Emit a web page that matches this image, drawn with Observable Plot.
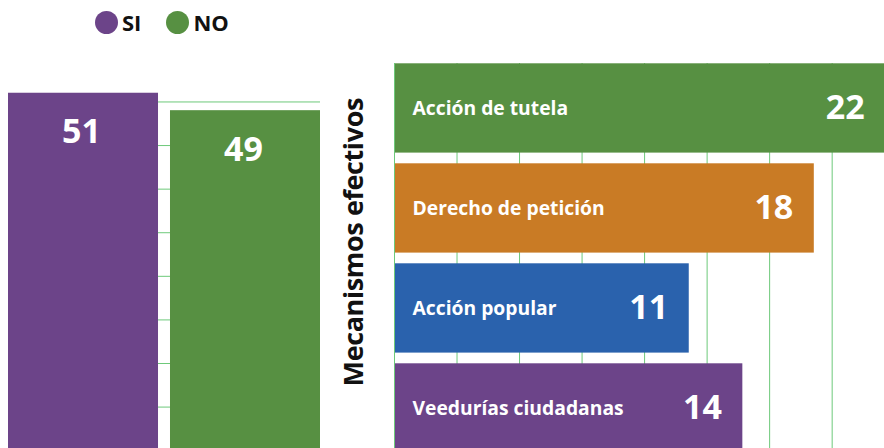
<!DOCTYPE html>
<html><head><meta charset="utf-8">
<script src="https://cdn.jsdelivr.net/npm/d3@7"></script>
<script src="https://cdn.jsdelivr.net/npm/@observablehq/plot@0.6"></script>
<style>
body{margin:0;background:#fff;font-family:"Open Sans",sans-serif;}
#legend{display:flex;align-items:center;height:36px;padding-top:4px;padding-left:95px;width:789px;}
.item{display:flex;align-items:center;margin-right:25px;}
.dot{width:23px;height:23px;border-radius:50%;margin-right:4px;}
.lab{font-size:22px;font-weight:700;color:#111;}
#row{display:flex;width:884px;height:408px;overflow:hidden;}
</style></head><body>
<div id="legend"></div>
<div id="row"><div id="left"></div><div id="right"></div></div>
<script>
// ---- data ----
const answers = ["SI", "NO"];
const answerValues = [51, 49];
const mechanisms = ["Acción de tutela", "Derecho de petición", "Acción popular", "Veedurías ciudadanas"];
const mechanismValues = [22, 18, 11, 14];
const axisTitle = "Mecanismos efectivos";
const leftTicks = [15, 20, 25, 30, 35, 40, 45, 50];

// ---- styles ----
const purple = "#6c4489", green = "#579042", orange = "#c97b25", blue = "#2a62ad", grid = "#6dc97a";
const font = '"Open Sans", sans-serif';

const leftData = answers.map((k, i) => ({k, v: answerValues[i]}));
const rightData = mechanisms.map((k, i) => ({k, v: mechanismValues[i]}));

// legend
const legendColors = [purple, green];
const legend = document.getElementById("legend");
answers.forEach((a, i) => {
  const it = document.createElement("div"); it.className = "item";
  const dot = document.createElement("span"); dot.className = "dot"; dot.style.background = legendColors[i];
  const lab = document.createElement("span"); lab.className = "lab"; lab.textContent = a;
  it.append(dot, lab); legend.append(it);
});

const yMin = 10.25;
const leftPlot = Plot.plot({
  width: 335, height: 408,
  marginLeft: 8, marginRight: 15, marginTop: 0, marginBottom: 0,
  style: {fontFamily: font, background: "transparent"},
  x: {domain: answers, paddingInner: 0.074, paddingOuter: 0, round: false, axis: null},
  y: {domain: [yMin, 57.05], axis: null},
  color: {domain: answers, range: [purple, green]},
  marks: [
    Plot.ruleY(leftTicks, {stroke: grid, strokeWidth: 1}),
    Plot.barY(leftData, {x: "k", y1: yMin, y2: "v", fill: "k"}),
    Plot.text(leftData, {x: "k", y: "v", text: d => String(d.v), fill: "white", fontSize: 34, fontWeight: 700, dy: 39, dx: -2, lineAnchor: "middle"})
  ]
});
document.getElementById("left").append(leftPlot);

const B = -5.5;
const rightPlot = Plot.plot({
  width: 549, height: 408,
  marginLeft: 59, marginRight: 0, marginTop: 23, marginBottom: 0,
  style: {fontFamily: font, background: "transparent"},
  x: {domain: [B, 21.93], axis: null},
  y: {domain: mechanisms, range: [23.3, 412.6], paddingInner: 0.107, paddingOuter: 0, round: false, axis: null},
  color: {domain: mechanisms, range: [green, orange, blue, purple]},
  marks: [
    Plot.ruleX(d3.range(B, 22, 3.5), {stroke: grid, strokeWidth: 1}),
    Plot.barX(rightData, {y: "k", x1: B, x2: "v", fill: "k", insetLeft: 1}),
    Plot.text(rightData, {y: "k", x: B, text: "k", dx: 18, textAnchor: "start", fill: "white", fontSize: 19.3, fontWeight: 700, lineAnchor: "middle"}),
    Plot.text(rightData, {y: "k", x: "v", text: d => String(d.v), dx: -21, textAnchor: "end", fill: "white", fontSize: 34, fontWeight: 700, lineAnchor: "middle"}),
    Plot.text([axisTitle], {frameAnchor: "left", text: d => d, rotate: -90, dx: -40.5, dy: -13.8, fontSize: 27, fontWeight: 700, fill: "#111", lineAnchor: "middle", textAnchor: "middle"})
  ]
});
rightPlot.querySelectorAll("text").forEach(t => { if (t.textContent === axisTitle) t.style.letterSpacing = "-0.4px"; });
document.getElementById("right").append(rightPlot);
</script>
</body></html>
